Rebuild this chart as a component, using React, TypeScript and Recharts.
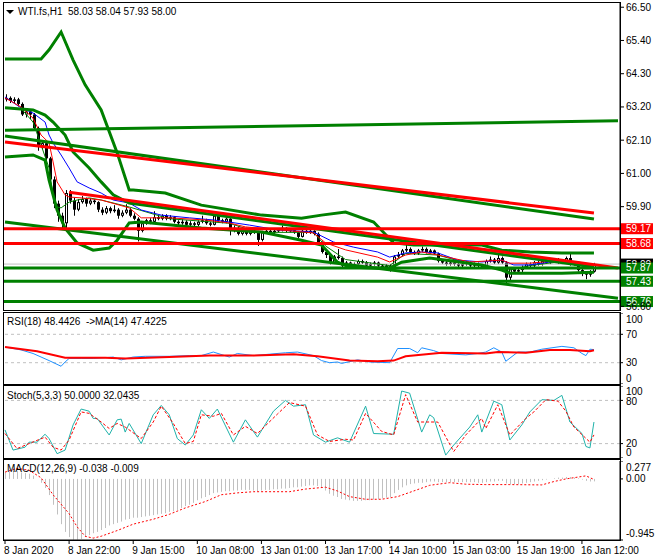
import React from 'react';
import { ComposedChart, Bar, Line, XAxis, YAxis, ReferenceLine } from 'recharts';

const FONT = '"Liberation Sans", Arial, sans-serif';
const SLOTS = 154; // 148 hourly bars + right shift

const opens = [
  63.45, 63.50, 63.40, 63.45, 63.30, 62.95, 63.05, 62.95, 62.50, 61.90,
  62.00, 61.50, 60.80, 60.00, 59.60, 59.35, 60.35, 60.10, 59.80, 60.05,
  60.15, 60.00, 60.10, 60.05, 59.80, 59.70, 59.85, 59.75, 59.80, 59.60,
  59.70, 59.80, 59.60, 59.50, 59.10, 59.35, 59.45, 59.40, 59.55, 59.50,
  59.60, 59.50, 59.55, 59.40, 59.35, 59.40, 59.30, 59.35, 59.30, 59.40,
  59.45, 59.35, 59.30, 59.60, 59.45, 59.40, 59.50, 59.10, 59.20, 59.00,
  59.15, 59.00, 59.10, 59.05, 58.80, 59.05, 59.10, 59.05, 59.10, 59.12,
  59.20, 59.10, 59.12, 59.05, 58.90, 59.10, 59.05, 59.10, 59.00, 58.70,
  58.40, 58.30, 58.05, 58.25, 58.20, 57.95, 58.05, 57.95, 58.00, 58.10,
  58.05, 57.95, 58.00, 58.05, 57.95, 57.90, 57.95, 57.85, 58.25, 58.30,
  58.45, 58.50, 58.40, 58.35, 58.45, 58.50, 58.40, 58.45, 58.35, 58.10,
  58.05, 58.00, 58.05, 58.00, 57.95, 58.00, 58.05, 57.95, 58.00, 57.95,
  57.90, 58.10, 58.15, 58.05, 58.20, 58.05, 57.55, 57.85, 57.75, 57.80,
  57.90, 58.00, 57.95, 58.05, 58.00, 58.10, 58.05, 58.10, 58.15, 58.05,
  58.10, 58.20, 58.00, 58.05, 57.80, 57.70, 57.65, 57.75,
];
const closes = [
  63.50, 63.40, 63.45, 63.30, 62.95, 63.05, 62.95, 62.50, 61.90, 62.00,
  61.50, 60.80, 60.00, 59.60, 59.35, 60.35, 60.10, 59.80, 60.05, 60.15,
  60.00, 60.10, 60.05, 59.80, 59.70, 59.85, 59.75, 59.80, 59.60, 59.70,
  59.80, 59.60, 59.50, 59.10, 59.35, 59.45, 59.40, 59.55, 59.50, 59.60,
  59.50, 59.55, 59.40, 59.35, 59.40, 59.30, 59.35, 59.30, 59.40, 59.45,
  59.35, 59.30, 59.60, 59.45, 59.40, 59.50, 59.10, 59.20, 59.00, 59.15,
  59.00, 59.10, 59.05, 58.80, 59.05, 59.10, 59.05, 59.10, 59.12, 59.20,
  59.10, 59.12, 59.05, 58.90, 59.10, 59.05, 59.10, 59.00, 58.70, 58.40,
  58.30, 58.05, 58.25, 58.20, 57.95, 58.05, 57.95, 58.00, 58.10, 58.05,
  57.95, 58.00, 58.05, 57.95, 57.90, 57.95, 57.85, 58.25, 58.30, 58.45,
  58.50, 58.40, 58.35, 58.45, 58.50, 58.40, 58.45, 58.35, 58.10, 58.05,
  58.00, 58.05, 58.00, 57.95, 58.00, 58.05, 57.95, 58.00, 57.95, 57.90,
  58.10, 58.15, 58.05, 58.20, 58.05, 57.55, 57.85, 57.75, 57.80, 57.90,
  58.00, 57.95, 58.05, 58.00, 58.10, 58.05, 58.10, 58.15, 58.05, 58.10,
  58.20, 58.00, 58.05, 57.80, 57.70, 57.65, 57.75, 58.00,
];
const highs = [
  63.62, 63.55, 63.52, 63.50, 63.35, 63.12, 63.10, 63.00, 62.55, 62.10,
  62.05, 61.55, 60.90, 60.10, 59.70, 60.45, 60.45, 60.20, 60.15, 60.25,
  60.20, 60.18, 60.15, 60.08, 59.88, 59.92, 59.90, 59.95, 59.85, 59.78,
  59.98, 59.85, 59.68, 59.55, 59.42, 59.50, 59.52, 59.75, 59.62, 59.65,
  59.65, 59.62, 59.58, 59.45, 59.48, 59.45, 59.42, 59.40, 59.45, 59.60,
  59.50, 59.40, 59.65, 59.65, 59.50, 59.55, 59.52, 59.28, 59.25, 59.22,
  59.20, 59.15, 59.15, 59.10, 59.10, 59.15, 59.15, 59.15, 59.18, 59.28,
  59.22, 59.18, 59.15, 59.08, 59.15, 59.15, 59.15, 59.12, 59.05, 58.75,
  58.45, 58.35, 58.30, 58.50, 58.25, 58.10, 58.08, 58.05, 58.15, 58.15,
  58.10, 58.05, 58.10, 58.08, 58.00, 58.00, 58.00, 58.30, 58.40, 58.50,
  58.70, 58.55, 58.45, 58.50, 58.58, 58.55, 58.50, 58.48, 58.38, 58.15,
  58.10, 58.10, 58.08, 58.05, 58.05, 58.10, 58.08, 58.05, 58.05, 58.00,
  58.15, 58.25, 58.20, 58.30, 58.25, 58.10, 57.90, 57.90, 57.85, 57.95,
  58.05, 58.05, 58.10, 58.10, 58.15, 58.15, 58.15, 58.20, 58.20, 58.15,
  58.25, 58.40, 58.10, 58.08, 57.85, 57.75, 57.80, 58.04,
];
const lows = [
  63.38, 63.33, 63.30, 63.22, 62.90, 62.85, 62.80, 62.45, 61.75, 61.80,
  61.40, 60.70, 59.85, 59.40, 59.15, 59.15, 60.00, 59.60, 59.75, 60.00,
  59.90, 59.95, 59.98, 59.72, 59.62, 59.65, 59.68, 59.70, 59.50, 59.55,
  59.65, 59.55, 59.45, 58.75, 59.05, 59.30, 59.32, 59.35, 59.45, 59.45,
  59.45, 59.45, 59.35, 59.28, 59.30, 59.25, 59.25, 59.22, 59.25, 59.35,
  59.30, 59.25, 59.28, 59.40, 59.35, 59.35, 58.95, 59.05, 58.95, 58.95,
  58.95, 58.95, 59.00, 58.60, 58.75, 59.00, 59.00, 59.00, 59.05, 59.08,
  59.05, 59.05, 59.00, 58.85, 58.88, 59.00, 59.00, 58.95, 58.65, 58.35,
  58.20, 57.98, 58.00, 58.15, 57.90, 57.90, 57.90, 57.92, 57.95, 58.00,
  57.90, 57.92, 57.95, 57.90, 57.85, 57.85, 57.75, 57.80, 58.20, 58.25,
  58.40, 58.35, 58.30, 58.30, 58.40, 58.35, 58.35, 58.30, 58.05, 58.00,
  57.95, 57.95, 57.95, 57.90, 57.90, 57.95, 57.90, 57.90, 57.90, 57.85,
  57.85, 58.05, 58.00, 58.00, 58.00, 57.35, 57.45, 57.70, 57.70, 57.70,
  57.85, 57.90, 57.90, 57.95, 57.95, 58.00, 58.00, 58.05, 58.00, 58.00,
  58.05, 57.95, 57.95, 57.75, 57.60, 57.50, 57.58, 57.72,
];
const macdHist = [
  0.10, 0.11, 0.12, 0.12, 0.10, 0.09, 0.08, 0.05, 0.00, -0.06,
  -0.14, -0.25, -0.40, -0.55, -0.70, -0.82, -0.90, -0.94, -0.94, -0.93,
  -0.90, -0.87, -0.84, -0.82, -0.79, -0.76, -0.72, -0.70, -0.68, -0.66,
  -0.63, -0.62, -0.60, -0.60, -0.59, -0.58, -0.57, -0.56, -0.55, -0.54,
  -0.53, -0.51, -0.50, -0.48, -0.45, -0.42, -0.40, -0.37, -0.33, -0.30,
  -0.28, -0.25, -0.22, -0.21, -0.20, -0.19, -0.19, -0.18, -0.18, -0.17,
  -0.17, -0.17, -0.18, -0.19, -0.18, -0.17, -0.17, -0.16, -0.16, -0.15,
  -0.15, -0.14, -0.13, -0.13, -0.12, -0.11, -0.10, -0.10, -0.11, -0.14,
  -0.18, -0.23, -0.26, -0.28, -0.31, -0.32, -0.33, -0.34, -0.34, -0.34,
  -0.33, -0.33, -0.32, -0.31, -0.30, -0.29, -0.28, -0.22, -0.17, -0.13,
  -0.10, -0.08, -0.07, -0.06, -0.06, -0.05, -0.04, -0.04, -0.05, -0.05,
  -0.05, -0.05, -0.05, -0.05, -0.05, -0.05, -0.05, -0.05, -0.06, -0.06,
  -0.05, -0.04, -0.04, -0.03, -0.03, -0.07, -0.08, -0.08, -0.08, -0.07,
  -0.06, -0.05, -0.04, -0.03, -0.02, -0.01, 0.00, 0.01, 0.02, 0.02,
  0.03, 0.03, 0.02, 0.01, -0.01, -0.03, -0.04, -0.038,
];

// [bar index, value] readings for the indicator lines
type Pt = [number, number];
const maBlue: Pt[] = [[0, 63.53], [4, 63.17], [7, 63.0], [10, 62.7], [11, 62.27], [12, 62.01], [14, 61.61], [16, 61.18], [18, 60.72], [21, 60.52], [24, 60.35], [27, 60.12], [31, 60.02], [34, 59.79], [39, 59.62], [46, 59.53], [52, 59.46], [56, 59.39], [61, 59.29], [68, 59.13], [77, 59.06], [82, 58.73], [87, 58.56], [93, 58.4], [96, 58.23], [100, 58.37], [104, 58.4], [108, 58.37], [113, 58.13], [119, 58.07], [124, 58.13], [127, 57.97], [131, 57.97], [139, 58.13], [143, 58.07], [147, 57.97]];
const maRed: Pt[] = [[0, 63.5], [4, 63.2], [7, 62.83], [9, 62.27], [11, 62.01], [12, 61.38], [13, 60.72], [15, 60.29], [16, 60.22], [19, 60.19], [24, 60.12], [31, 59.86], [34, 59.53], [41, 59.53], [50, 59.46], [56, 59.36], [60, 59.23], [77, 59.03], [80, 58.7], [85, 58.47], [93, 58.23], [96, 58.07], [100, 58.3], [104, 58.4], [108, 58.3], [116, 58.07], [124, 58.13], [126, 58.03], [131, 58.03], [139, 58.13], [144, 58.03], [147, 57.97]];
const maGreen: Pt[] = [[4, 63.15], [7, 62.7], [9, 61.94], [11, 61.18], [12, 60.29], [13, 59.89], [14, 59.86], [16, 60.05], [18, 60.12], [21, 60.19], [24, 60.12], [31, 59.89], [41, 59.5], [56, 59.35], [63, 59.05], [77, 59.05], [80, 58.6], [85, 58.15], [96, 57.95], [100, 58.35], [108, 58.3], [116, 58.0], [126, 57.8], [131, 57.95], [140, 58.1], [147, 57.85]];
const bandUpper: Pt[] = [[0, 64.79], [9, 64.79], [11, 65.09], [14, 65.68], [17, 64.75], [20, 63.93], [24, 63.1], [28, 61.68], [31, 60.45], [32, 60.45], [40, 60.35], [49, 59.95], [64, 59.62], [74, 59.52], [79, 59.62], [85, 59.72], [92, 59.39], [97, 58.7], [102, 58.63], [119, 58.63], [124, 58.46], [131, 58.4], [139, 58.37], [147, 58.37]];
const bandMid: Pt[] = [[0, 63.17], [7, 63.1], [10, 62.93], [12, 62.7], [15, 62.27], [17, 61.71], [21, 61.18], [24, 60.72], [27, 60.29], [31, 60.02], [147, 57.9]];
const bandLower: Pt[] = [[0, 61.54], [7, 61.61], [10, 61.44], [11, 60.78], [13, 59.79], [15, 59.19], [18, 58.7], [22, 58.46], [26, 58.53], [28, 58.79], [31, 59.36], [34, 59.39], [49, 59.19], [64, 59.06], [74, 58.79], [79, 58.63], [83, 58.06], [86, 57.9], [91, 57.87], [96, 57.87], [99, 58.06], [106, 58.2], [119, 57.97], [124, 57.8], [126, 57.7], [139, 57.7], [147, 57.73]];
const trendG1: Pt[] = [[0, 62.43], [153, 62.74]];
const trendR1: Pt[] = [[0, 62.04], [147, 59.69]];
const trendG2: Pt[] = [[0, 62.24], [147, 59.49]];
const trendR2: Pt[] = [[16, 60.38], [153, 57.87]];
const trendG3: Pt[] = [[0, 59.39], [153, 56.87]];

const rsi: Pt[] = [[0, 52], [4, 48], [7, 43], [9, 38], [11, 33], [14, 25], [15, 31], [16, 36], [19, 36], [22, 36], [25, 37], [27, 38], [29, 34], [32, 38], [35, 39], [41, 39], [46, 40], [49, 40], [52, 45], [56, 38], [58, 43], [62, 40], [66, 42], [70, 44], [73, 45], [77, 40], [79, 33], [81, 30], [83, 31], [84, 29], [88, 34], [91, 31], [96, 30], [98, 50], [101, 50], [103, 44], [104, 51], [107, 47], [109, 43], [115, 41], [118, 43], [120, 45], [122, 51], [124, 45], [125, 32], [128, 45], [131, 45], [134, 49], [139, 53], [142, 51], [143, 47], [144, 43], [145, 40], [146, 49], [147, 48.44]];
const rsiMa: Pt[] = [[0, 52], [8, 46], [15, 37], [25, 37], [30, 36], [41, 38], [51, 40], [62, 40], [72, 42], [78, 39], [86, 33], [93, 32], [97, 33], [100, 39], [109, 44], [120, 43], [123, 45], [130, 44], [136, 48], [141, 48], [146, 46], [147, 47.42]];
const stochK: Pt[] = [[0, 39], [2, 11], [5, 15], [6, 22], [8, 22], [10, 33], [11, 27], [13, 6], [15, 11], [17, 46], [19, 68], [21, 65], [22, 55], [23, 55], [26, 32], [28, 53], [29, 54], [30, 36], [31, 48], [34, 20], [37, 60], [39, 73], [41, 60], [43, 27], [45, 18], [47, 32], [49, 67], [51, 55], [53, 68], [57, 22], [60, 53], [63, 29], [67, 65], [70, 80], [72, 72], [75, 74], [77, 32], [80, 22], [83, 28], [86, 22], [90, 72], [92, 34], [97, 33], [99, 93], [101, 90], [104, 36], [106, 60], [107, 56], [110, 4], [112, 18], [116, 43], [118, 60], [119, 36], [122, 79], [124, 74], [126, 25], [129, 46], [131, 64], [134, 81], [137, 80], [139, 87], [141, 50], [144, 34], [145, 16], [146, 14], [147, 50]];
const stochD: Pt[] = [[0, 34], [3, 13], [6, 20], [10, 29], [12, 15], [14, 11], [16, 25], [19, 64], [21, 62], [24, 50], [26, 41], [28, 48], [30, 43], [34, 27], [37, 50], [39, 72], [42, 48], [45, 20], [47, 23], [49, 60], [52, 58], [54, 62], [57, 32], [60, 44], [63, 34], [68, 61], [71, 77], [75, 72], [78, 32], [81, 23], [85, 26], [87, 25], [90, 62], [94, 37], [97, 32], [100, 88], [103, 50], [106, 50], [108, 50], [112, 9], [115, 32], [119, 55], [120, 41], [123, 74], [126, 32], [130, 55], [132, 64], [135, 81], [138, 79], [140, 65], [142, 43], [146, 22], [147, 32.04]];
const macdSignal: Pt[] = [[0, 0.105], [3, 0.163], [6, 0.134], [9, 0.018], [12, -0.245], [16, -0.537], [18, -0.741], [20, -0.887], [22, -0.916], [24, -0.887], [28, -0.799], [32, -0.7], [37, -0.624], [41, -0.548], [45, -0.449], [50, -0.35], [54, -0.245], [58, -0.216], [62, -0.198], [71, -0.198], [75, -0.157], [80, -0.128], [83, -0.187], [86, -0.274], [90, -0.315], [94, -0.315], [98, -0.274], [102, -0.187], [106, -0.099], [111, -0.058], [115, -0.082], [120, -0.088], [126, -0.088], [134, -0.093], [137, -0.041], [140, 0], [145, 0.047], [147, -0.009]];

const priceTicks = [56.6, 59.9, 61.0, 62.1, 63.2, 64.3, 65.4, 66.5];
const timeLabels = ['8 Jan 2020', '8 Jan 22:00', '9 Jan 15:00', '10 Jan 08:00', '13 Jan 01:00', '13 Jan 17:00', '14 Jan 10:00', '15 Jan 03:00', '15 Jan 19:00', '16 Jan 12:00'];

const rows: Record<string, any>[] = Array.from({ length: SLOTS }, (_, i) => ({ i }));
opens.forEach((o, i) => {
  Object.assign(rows[i], { o, h: highs[i], l: lows[i], c: closes[i], hist: macdHist[i] });
});
const put = (key: string, pts: Pt[]) => pts.forEach(([i, v]) => { rows[i][key] = v; });
put('maBlue', maBlue); put('maRed', maRed); put('maGreen', maGreen);
put('bandUpper', bandUpper); put('bandMid', bandMid); put('bandLower', bandLower);
put('g1', trendG1); put('r1', trendR1); put('g2', trendG2); put('r2', trendR2); put('g3', trendG3);
put('rsi', rsi); put('rsiMa', rsiMa); put('k', stochK); put('d', stochD); put('sig', macdSignal);

const candleRange = (d: any) => (d.h == null ? undefined : [d.l, d.h]);

const Candle = (props: any) => {
  const { x, y, width, height, payload } = props;
  if (!payload || payload.h == null) return null;
  const top = Math.min(y, y + height);
  const span = Math.abs(height);
  const range = payload.h - payload.l;
  const k = range > 0 ? span / range : 0;
  const cx = Math.round(x + width / 2);
  const yTop = top + (payload.h - Math.max(payload.o, payload.c)) * k;
  const yBot = top + (payload.h - Math.min(payload.o, payload.c)) * k;
  const bodyH = Math.max(1, yBot - yTop);
  const up = payload.c > payload.o;
  return (
    <g>
      <line x1={cx + 0.5} x2={cx + 0.5} y1={top} y2={top + span} stroke="#000" />
      <rect x={cx - 1} y={yTop} width={3} height={bodyH} fill="#000" />
      {up && bodyH > 2 && <rect x={cx} y={yTop + 1} width={1} height={bodyH - 2} fill="#fff" />}
    </g>
  );
};

const HistBar = (props: any) => {
  const { x, y, width, height } = props;
  if (!height) return null;
  const top = Math.min(y, y + height);
  return <rect x={Math.round(x + width / 2)} y={top} width={1} height={Math.abs(height)} fill="#c0c0c0" />;
};

const AxisTick = (props: any) => {
  const { x, y, payload, fmt, shift } = props;
  const dy = (shift && shift[payload.value]) || 0;
  return (
    <text x={x} y={y + dy} dy="0.35em" fontSize={10} fontFamily={FONT} fill="#000">
      {fmt ? fmt(payload.value) : payload.value}
    </text>
  );
};

const TimeTick = (props: any) => {
  const { x, y, payload } = props;
  return (
    <text x={x - 1} y={y} dy="0.75em" fontSize={10} fontFamily={FONT} fill="#000">
      {timeLabels[Math.round(payload.value / 16)]}
    </text>
  );
};

const PriceTag = (props: any) => {
  const { viewBox, text, bg } = props;
  if (!viewBox) return null;
  const x = viewBox.x + viewBox.width + 1;
  const cy = viewBox.y;
  return (
    <g>
      <rect x={x} y={cy - 5.5} width={32} height={11} fill={bg} />
      <text x={x + 5} y={cy} dy="0.35em" fontSize={10} fontFamily={FONT} fill="#fff">{text}</text>
    </g>
  );
};

const M = { top: 0, right: 0, bottom: 0, left: 3 };
const thin = (key: string, color: string, w = 1, dash?: string) => (
  <Line key={key} dataKey={key} stroke={color} strokeWidth={w} strokeDasharray={dash} dot={false} activeDot={false}
    connectNulls type="linear" isAnimationActive={false} />
);

const box = (top: number, height: number) => (
  <div style={{ position: 'absolute', left: 3, top, width: 618, height, border: '1px solid #000', boxSizing: 'border-box', pointerEvents: 'none' }} />
);

const caption = (left: number, top: number, text: string) => (
  <div style={{ position: 'absolute', left, top, fontSize: 10, lineHeight: '12px', whiteSpace: 'pre', color: '#000', fontFamily: FONT }}>{text}</div>
);

export default function App() {
  return (
    <div style={{ position: 'absolute', left: 0, top: 0, width: 660, height: 560, background: '#fff', overflow: 'hidden', fontFamily: FONT }}>
      <div style={{ position: 'absolute', left: 0, top: 0 }}>
        <ComposedChart width={660} height={310} data={rows} margin={{ ...M, top: 3 }}>
          <XAxis dataKey="i" hide />
          <YAxis orientation="right" width={40} type="number" domain={[56.48, 66.64]} allowDataOverflow ticks={priceTicks}
            interval={0} tickSize={4} tickMargin={2} stroke="#000" tick={<AxisTick fmt={(v: number) => v.toFixed(2)} />} />
          <Bar dataKey={candleRange} shape={Candle} barSize={3} isAnimationActive={false} />
          <ReferenceLine y={58.0} stroke="#c0c0c0" label={<PriceTag text="58.00" bg="#000" />} />
          {thin('maGreen', '#008000')}
          {thin('maBlue', '#0000ff')}
          {thin('maRed', '#ff0000')}
          {thin('bandUpper', '#008000', 3)}
          {thin('bandMid', '#008000', 3)}
          {thin('bandLower', '#008000', 3)}
          {thin('g1', '#008000', 3)}
          {thin('g2', '#008000', 3)}
          {thin('g3', '#008000', 3)}
          {thin('r1', '#ff0000', 3)}
          {thin('r2', '#ff0000', 3)}
          <ReferenceLine y={59.17} stroke="#ff0000" strokeWidth={3} label={<PriceTag text="59.17" bg="#ff0000" />} />
          <ReferenceLine y={58.68} stroke="#ff0000" strokeWidth={3} label={<PriceTag text="58.68" bg="#ff0000" />} />
          <ReferenceLine y={57.87} stroke="#008000" strokeWidth={3} label={<PriceTag text="57.87" bg="#008000" />} />
          <ReferenceLine y={57.43} stroke="#008000" strokeWidth={3} label={<PriceTag text="57.43" bg="#008000" />} />
          <ReferenceLine y={56.76} stroke="#008000" strokeWidth={3} label={<PriceTag text="56.76" bg="#008000" />} />
        </ComposedChart>
      </div>

      <div style={{ position: 'absolute', left: 0, top: 313 }}>
        <ComposedChart width={660} height={71} data={rows} margin={M}>
          <XAxis dataKey="i" hide />
          <YAxis orientation="right" width={40} type="number" domain={[0, 100]} ticks={[0, 30, 70, 100]} interval={0}
            tickSize={3} tickMargin={3} stroke="#000" tick={<AxisTick shift={{ 100: 6, 0: -6 }} />} />
          <Bar dataKey="none" isAnimationActive={false} />
          <ReferenceLine y={70} stroke="#c0c0c0" strokeDasharray="3 3" />
          <ReferenceLine y={30} stroke="#c0c0c0" strokeDasharray="3 3" />
          {thin('rsi', '#1e90ff')}
          {thin('rsiMa', '#ff0000', 2)}
        </ComposedChart>
      </div>

      <div style={{ position: 'absolute', left: 0, top: 386 }}>
        <ComposedChart width={660} height={72} data={rows} margin={M}>
          <XAxis dataKey="i" hide />
          <YAxis orientation="right" width={40} type="number" domain={[0, 100]} ticks={[0, 20, 80, 100]} interval={0}
            tickSize={3} tickMargin={3} stroke="#000" tick={<AxisTick shift={{ 100: 5, 80: 1, 0: -6 }} />} />
          <Bar dataKey="none" isAnimationActive={false} />
          <ReferenceLine y={80} stroke="#c0c0c0" strokeDasharray="3 3" />
          <ReferenceLine y={20} stroke="#c0c0c0" strokeDasharray="3 3" />
          {thin('k', '#20b2aa')}
          {thin('d', '#ff0000', 1, '3 2')}
        </ComposedChart>
      </div>

      <div style={{ position: 'absolute', left: 0, top: 461 }}>
        <ComposedChart width={660} height={99} data={rows} margin={M}>
          <XAxis dataKey="i" interval={15} height={20} tickSize={4} tickMargin={2} stroke="#000" tick={<TimeTick />} />
          <YAxis orientation="right" width={40} type="number" domain={[-0.945, 0.277]} allowDataOverflow ticks={[-0.945, 0, 0.277]}
            interval={0} tickSize={3} tickMargin={3} stroke="#000"
            tick={<AxisTick shift={{ 0.277: 6, '-0.945': -7 }} fmt={(v: number) => (v === 0 ? '0.00' : String(v))} />} />
          <Bar dataKey="hist" shape={HistBar} isAnimationActive={false} />
          {thin('sig', '#ff0000', 1, '2 2')}
        </ComposedChart>
      </div>

      {box(2, 309)}
      {box(312, 73)}
      {box(385, 74)}
      {box(459, 82)}

      <div style={{ position: 'absolute', left: 6, top: 10, width: 0, height: 0, borderLeft: '4px solid transparent', borderRight: '4px solid transparent', borderTop: '4px solid #000' }} />
      {caption(18, 6, 'WTI.fs,H1  58.03 58.04 57.93 58.00')}
      {caption(7, 316, 'RSI(18) 48.4426  ->MA(14) 47.4225')}
      {caption(7, 390, 'Stoch(5,3,3) 50.0000 32.0435')}
      {caption(7, 463, 'MACD(12,26,9) -0.038 -0.009')}
    </div>
  );
}
